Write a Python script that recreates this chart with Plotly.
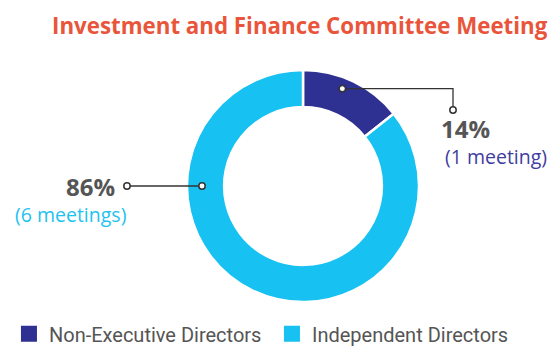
import math
import plotly.graph_objects as go

# Committee attendance data
categories = ["Non-Executive Directors", "Independent Directors"]
meetings = [1, 6]
colors = ["#2e3192", "#17c1f1"]
meeting_labels = ["(1 meeting)", "(6 meetings)"]
label_colors = ["#3f3d9e", "#1fc2f0"]

title_text = "Investment and Finance Committee Meeting"

W, H = 560, 347
cx, cy, R = 303, 186, 116   # donut centre / outer radius in px (from top-left)
HOLE = 0.68
FONT = "Open Sans"
LEGEND_FONT = "Roboto"


def px(x):
    return x / W


def py(y):
    return 1 - y / H


total = sum(meetings)
pcts = [round(100 * v / total) for v in meetings]

fig = go.Figure()
fig.add_trace(go.Pie(
    labels=categories, values=meetings, hole=HOLE, sort=False,
    direction="clockwise", rotation=0,
    marker=dict(colors=colors, line=dict(color="white", width=2.5)),
    textinfo="none", hoverinfo="label+value+percent", showlegend=False,
    domain=dict(x=[px(cx - R), px(cx + R)], y=[py(cy + R), py(cy - R)]),
))

# legend entries
for name, col in zip(categories, colors):
    fig.add_trace(go.Scatter(
        x=[None], y=[None], mode="markers", name=name,
        marker=dict(symbol="square", size=16, color=col),
    ))

shapes = []
annotations = []


def dot(x, y):
    r = 3.2
    shapes.append(dict(type="circle", xref="paper", yref="paper",
                       x0=px(x - r), x1=px(x + r), y0=py(y + r), y1=py(y - r),
                       line=dict(color="#333333", width=1.5), fillcolor="white"))


def seg(pts):
    path = "M " + " L ".join(f"{px(x)},{py(y)}" for x, y in pts)
    shapes.append(dict(type="path", xref="paper", yref="paper", path=path,
                       line=dict(color="#333333", width=1.3)))


def ring_point(angle_deg, r):
    a = math.radians(angle_deg)
    return cx + r * math.sin(a), cy - r * math.cos(a)


# leader for Non-Executive slice
ax, ay = ring_point(22, 105)
seg([(ax, ay), (453, ay), (453, 110)])
dot(ax, ay)
dot(453, 110)
annotations.append(dict(x=px(439), y=py(128), xref="paper", yref="paper",
                        text=f"<b>{pcts[0]}%</b>", showarrow=False,
                        xanchor="left", yanchor="middle",
                        font=dict(family=FONT, size=24, color="#555555")))
annotations.append(dict(x=px(443), y=py(157), xref="paper", yref="paper",
                        text=meeting_labels[0], showarrow=False,
                        xanchor="left", yanchor="middle",
                        font=dict(family=FONT, size=19.5, color=label_colors[0])))

# leader for Independent slice
bx, by = ring_point(270, 101)
seg([(bx, by), (127, by)])
dot(bx, by)
dot(127, by)
annotations.append(dict(x=px(117), y=py(by), xref="paper", yref="paper",
                        text=f"<b>{pcts[1]}%</b>", showarrow=False,
                        xanchor="right", yanchor="middle",
                        font=dict(family=FONT, size=24, color="#555555")))
annotations.append(dict(x=px(128), y=py(214), xref="paper", yref="paper",
                        text=meeting_labels[1], showarrow=False,
                        xanchor="right", yanchor="middle",
                        font=dict(family=FONT, size=19.5, color=label_colors[1])))

# title
annotations.append(dict(x=px(300), y=py(25), xref="paper", yref="paper",
                        text=f"<b>{title_text}</b>", showarrow=False,
                        xanchor="center", yanchor="middle",
                        font=dict(family=FONT, size=22.3, color="#e9553b")))

fig.update_layout(
    width=W, height=H,
    margin=dict(l=0, r=0, t=0, b=0, autoexpand=False),
    paper_bgcolor="white", plot_bgcolor="white",
    xaxis=dict(visible=False), yaxis=dict(visible=False),
    shapes=shapes, annotations=annotations,
    showlegend=True,
    legend=dict(orientation="h", x=0.016, xanchor="left", y=-0.018, yanchor="bottom",
                entrywidth=218, entrywidthmode="pixels",
                font=dict(family=LEGEND_FONT, size=20, color="#555555"),
                itemclick=False, itemdoubleclick=False),
)

fig.write_html("out.html")
